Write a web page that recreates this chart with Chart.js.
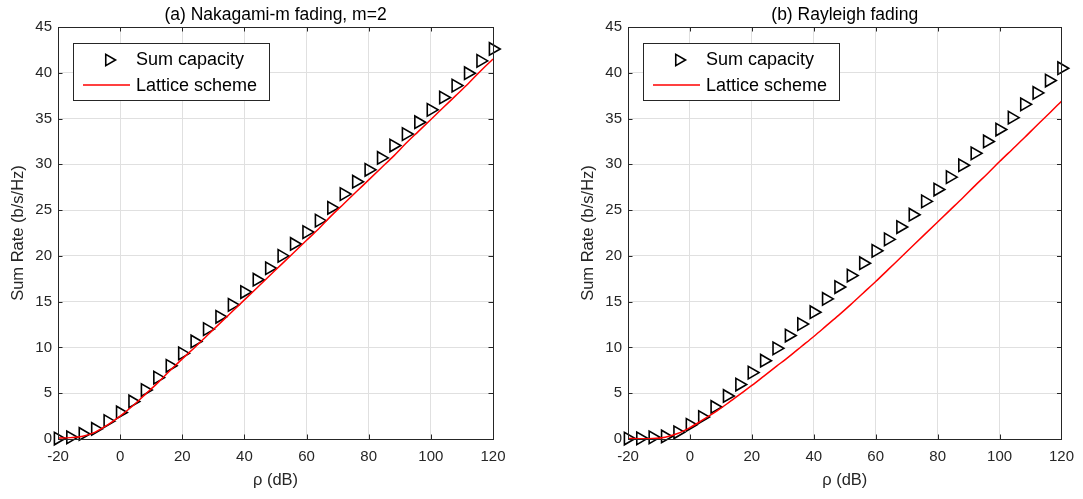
<!DOCTYPE html>
<html><head><meta charset="utf-8">
<script src="https://cdn.jsdelivr.net/npm/chart.js@4.4.1/dist/chart.umd.min.js"></script>
<style>
html,body{margin:0;padding:0;background:#fff;width:1083px;height:499px;overflow:hidden}
#a{position:absolute;left:0;top:0}
#b{position:absolute;left:541px;top:0}
</style></head><body>
<canvas id="a" width="541" height="499"></canvas>
<canvas id="b" width="542" height="499"></canvas>
<script>
// ---- data ----
const rhoDb = [-20,-16,-12,-8,-4,0,4,8,12,16,20,24,28,32,36,40,44,48,52,56,60,64,68,72,76,80,84,88,92,96,100,104,108,112,116,120];
const nakagamiCapacity = [0.05,0.18,0.55,1.1,1.95,2.9,4.1,5.35,6.7,8.0,9.35,10.65,12.0,13.35,14.65,16.05,17.4,18.65,20.0,21.3,22.6,23.85,25.25,26.75,28.1,29.4,30.7,32.05,33.3,34.6,35.95,37.3,38.6,39.95,41.3,42.6];
const nakagamiLattice = [0.1,0.15,0.3,0.75,1.55,2.5,3.6,4.85,6.1,7.45,8.75,10.0,11.3,12.6,13.9,15.2,16.5,17.8,19.1,20.4,21.7,23.0,24.4,25.7,27.0,28.3,29.6,30.9,32.3,33.6,34.9,36.2,37.5,38.8,40.2,41.5];
const rayleighCapacity = [0.05,0.07,0.18,0.28,0.73,1.55,2.4,3.5,4.7,5.95,7.25,8.55,9.9,11.3,12.55,13.85,15.3,16.6,17.85,19.2,20.55,21.8,23.15,24.5,25.95,27.25,28.6,29.9,31.2,32.5,33.8,35.1,36.55,37.8,39.15,40.5];
const rayleighLattice = [0.05,0.03,0.05,0.2,0.6,1.25,2.05,2.9,3.85,4.85,5.85,6.9,7.95,9.0,10.1,11.2,12.35,13.5,14.7,15.95,17.2,18.5,19.8,21.1,22.4,23.7,25.0,26.3,27.65,28.95,30.3,31.6,32.9,34.25,35.55,36.9];
const xTicks = [-20,0,20,40,60,80,100,120];
const yTicks = [0,5,10,15,20,25,30,35,40,45];
const panelTitles = ['(a) Nakagami-m fading, m=2', '(b) Rayleigh fading'];
const seriesNames = ['Sum capacity', 'Lattice scheme'];
const xLabel = 'ρ (dB)';
const yLabel = 'Sum Rate (b/s/Hz)';

const FONT = "'Liberation Sans', Arial, Helvetica, sans-serif";
const INK = '#262626';

function tri(ctx, x, y, r) {
  ctx.beginPath();
  ctx.moveTo(x + r, y);
  ctx.lineTo(x - r / 2, y - r * 0.866);
  ctx.lineTo(x - r / 2, y + r * 0.866);
  ctx.closePath();
  ctx.stroke();
}

const framePlugin = {
  id: 'frame',
  afterDraw(chart, args, opts) {
    const ctx = chart.ctx;
    const a = chart.chartArea;
    const xs = chart.scales.x, ys = chart.scales.y;
    ctx.save();
    // box
    ctx.strokeStyle = INK; ctx.lineWidth = 1;
    ctx.strokeRect(Math.round(a.left) + 0.5, Math.round(a.top) + 0.5, Math.round(a.right - a.left), Math.round(a.bottom - a.top));
    // inward ticks
    const tl = 4.5;
    ctx.beginPath();
    xTicks.forEach(v => {
      const px = Math.round(xs.getPixelForValue(v)) + 0.5;
      ctx.moveTo(px, a.bottom); ctx.lineTo(px, a.bottom - tl);
      ctx.moveTo(px, a.top); ctx.lineTo(px, a.top + tl);
    });
    yTicks.forEach(v => {
      const py = Math.round(ys.getPixelForValue(v)) + 0.5;
      ctx.moveTo(a.left, py); ctx.lineTo(a.left + tl, py);
      ctx.moveTo(a.right, py); ctx.lineTo(a.right - tl, py);
    });
    ctx.stroke();
    // title
    ctx.fillStyle = '#000';
    ctx.font = '17.5px ' + FONT;
    ctx.textAlign = 'center'; ctx.textBaseline = 'middle';
    ctx.fillText(opts.title, (a.left + a.right) / 2, 15);
    // legend
    const bx = a.left + 15, by = a.top + 16, bw = 196, bh = 57;
    ctx.fillStyle = '#fff';
    ctx.fillRect(bx, by, bw, bh);
    ctx.strokeStyle = '#262626'; ctx.lineWidth = 1;
    ctx.strokeRect(Math.round(bx) + 0.5, Math.round(by) + 0.5, bw, bh);
    ctx.strokeStyle = '#000'; ctx.lineWidth = 1.6;
    tri(ctx, bx + 36, by + 17, 6.5);
    ctx.strokeStyle = '#ff0000'; ctx.lineWidth = 1.5;
    ctx.beginPath(); ctx.moveTo(bx + 10, by + 42); ctx.lineTo(bx + 57, by + 42); ctx.stroke();
    ctx.fillStyle = '#000';
    ctx.font = '18px ' + FONT;
    ctx.textAlign = 'left'; ctx.textBaseline = 'middle';
    ctx.fillText(seriesNames[0], bx + 63, by + 17);
    ctx.fillText(seriesNames[1], bx + 63, by + 43);
    ctx.restore();
  }
};

function makeChart(id, cap, lat, title, padLeft, padRight) {
  return new Chart(document.getElementById(id), {
    type: 'line',
    data: {
      datasets: [
        {
          label: seriesNames[1],
          data: rhoDb.map((x, i) => ({ x, y: lat[i] })),
          borderColor: '#ff0000', borderWidth: 1.5,
          pointRadius: 0, fill: false,
          cubicInterpolationMode: 'monotone',
          order: 0, clip: false
        },
        {
          label: seriesNames[0],
          data: rhoDb.map((x, i) => ({ x, y: cap[i] })),
          showLine: false,
          pointStyle: 'triangle', rotation: 90,
          pointRadius: 7.2, pointBorderWidth: 1.6,
          pointBorderColor: '#000', pointBackgroundColor: 'rgba(0,0,0,0)',
          borderColor: '#000',
          order: 1, clip: false
        }
      ]
    },
    options: {
      responsive: false, animation: false,
      layout: { padding: { left: padLeft, right: padRight, top: 27, bottom: 0 } },
      plugins: { legend: { display: false }, tooltip: { enabled: false }, frame: { title } },
      scales: {
        x: {
          type: 'linear', min: -20, max: 120,
          afterBuildTicks: s => { s.ticks = xTicks.map(v => ({ value: v })); },
          afterFit: s => { s.height = 60; },
          grid: { color: '#e0e0e0', drawTicks: false },
          border: { display: false },
          ticks: { color: INK, font: { family: FONT, size: 15 }, padding: 9, maxRotation: 0, autoSkip: false },
          title: { display: true, text: xLabel, color: INK, font: { family: FONT, size: 16.5 }, padding: { top: 0, bottom: 9 } }
        },
        y: {
          type: 'linear', min: 0, max: 45,
          afterBuildTicks: s => { s.ticks = yTicks.map(v => ({ value: v })); },
          afterFit: s => { s.width = 58; },
          grid: { color: '#e0e0e0', drawTicks: false },
          border: { display: false },
          ticks: { color: INK, font: { family: FONT, size: 15 }, padding: 6, autoSkip: false },
          title: { display: true, text: yLabel, color: INK, font: { family: FONT, size: 16.5 }, padding: { top: 8.5, bottom: 0 } }
        }
      }
    },
    plugins: [framePlugin]
  });
}

makeChart('a', nakagamiCapacity, nakagamiLattice, panelTitles[0], 0, 541 - 493);
makeChart('b', rayleighCapacity, rayleighLattice, panelTitles[1], 628 - 541 - 58, 542 - (1063 - 541));
</script>
</body></html>
